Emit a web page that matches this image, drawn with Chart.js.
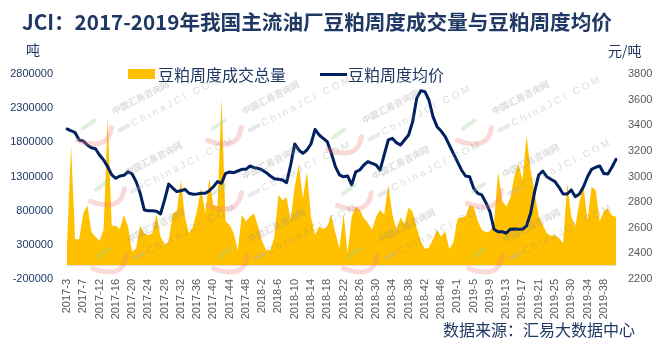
<!DOCTYPE html>
<html>
<head>
<meta charset="utf-8">
<script src="https://cdn.jsdelivr.net/npm/chart.js@4.4.1/dist/chart.umd.min.js"></script>
<style>
    html, body { margin: 0; padding: 0; background: #fff; }
    #wrap { position: relative; width: 670px; height: 346px; overflow: hidden;
            font-family: "Noto Sans CJK SC", "Noto Sans", sans-serif; color: #1f3864; }
    #chart { position: absolute; left: 0; top: 0; }
    .t { position: absolute; white-space: nowrap; line-height: 1; }
    #title { left: 22px; top: 11px; font-size: 20.6px; font-weight: bold; }
    #unitL { left: 26px; top: 42px; font-size: 14px; }
    #unitR { left: 608px; top: 43px; font-size: 14px; }
    #src { left: 443px; top: 321px; font-size: 16px; }
    .swatch { position: absolute; }
</style>
</head>
<body>
<div id="wrap">
    <canvas id="chart" width="670" height="346"></canvas>
    <div class="t" id="title">JCI：2017-2019年我国主流油厂豆粕周度成交量与豆粕周度均价</div>
    <div class="t" id="unitL">吨</div>
    <div class="t" id="unitR">元/吨</div>
    <div class="swatch" style="left:128px;top:69px;width:27px;height:10px;background:#FFC000"></div>
    <div class="t" style="left:158px;top:66px;font-size:16px">豆粕周度成交总量</div>
    <div class="swatch" style="left:320px;top:73px;width:27px;height:3px;background:#002060"></div>
    <div class="t" style="left:348px;top:66px;font-size:16px">豆粕周度均价</div>
    <div class="t" id="src">数据来源：汇易大数据中心</div>
</div>
<script>
// 周次（每年有几周缺数据）
const weeks2017 = [3, 4, 5, 6, 7, 9, 10, 11, 12, 13, 14, 15, 16, 17, 18, 19, 20, 21, 22, 23, 24, 25, 26, 27,
    28, 29, 30, 31, 32, 33, 34, 35, 36, 37, 38, 39, 40, 41, 42, 43, 44, 45, 46, 47, 48, 49, 50, 51];
const weeks2018 = [2, 3, 4, 5, 6, 7, 8, 9, 10, 11, 12, 13, 14, 15, 16, 17, 18, 19, 20, 21, 22, 23, 24, 25,
    26, 27, 28, 29, 30, 31, 32, 33, 34, 35, 36, 37, 38, 39, 40, 41, 42, 43, 44, 45, 46, 47, 48, 49];
const weeks2019 = [1, 2, 3, 4, 5, 6, 7, 8, 9, 10, 11, 12, 13, 14, 15, 16, 17, 18, 19, 20, 21, 22, 23, 24,
    25, 26, 27, 28, 30, 31, 32, 33, 34, 35, 36, 37, 38, 39, 40, 41];

const weekLabels = [].concat(
    weeks2017.map(w => '2017-' + w),
    weeks2018.map(w => '2018-' + w),
    weeks2019.map(w => '2019-' + w)
);

// 豆粕周度成交总量（吨）
const weeklyVolume = [
    300000, 1750000, 380000, 380000, 760000, 880000, 490000, 420000, 360000, 520000,
    2150000, 580000, 580000, 530000, 740000, 570000, 200000, 250000, 580000, 470000,
    440000, 470000, 760000, 420000, 300000, 350000, 760000, 790000, 1250000, 710000,
    470000, 570000, 810000, 1130000, 760000, 1270000, 880000, 860000, 2440000, 640000,
    590000, 470000, 220000, 740000, 640000, 710000, 760000, 570000, 350000, 220000,
    220000, 420000, 1030000, 950000, 1000000, 660000, 1150000, 1470000, 980000, 1370000,
    710000, 440000, 570000, 530000, 570000, 740000, 470000, 250000, 760000, 180000,
    710000, 860000, 810000, 690000, 620000, 520000, 710000, 810000, 740000, 1180000,
    750000, 520000, 700000, 600000, 850000, 780000, 550000, 350000, 240000, 260000,
    380000, 520000, 420000, 500000, 240000, 330000, 680000, 700000, 720000, 880000,
    860000, 650000, 520000, 480000, 500000, 620000, 1370000, 950000, 860000, 980000,
    1300000, 1490000, 1250000, 1900000, 1400000, 1050000, 710000, 590000, 470000, 430000,
    440000, 400000, 320000, 1200000, 710000, 570000, 930000, 1150000, 660000, 1150000,
    1100000, 640000, 790000, 830000, 730000, 710000
];

// 豆粕周度均价（元/吨）
const avgPrice = [
    3371, 3357, 3342, 3285, 3277, 3246, 3225, 3217, 3168, 3129,
    3077, 3012, 2986, 3004, 3009, 3037, 3020, 2960, 2869, 2739,
    2733, 2733, 2728, 2707, 2817, 2941, 2910, 2882, 2889, 2900,
    2869, 2861, 2864, 2869, 2869, 2889, 2920, 2960, 2947, 3024,
    3035, 3030, 3043, 3056, 3056, 3082, 3069, 3064, 3051, 3030,
    3004, 2983, 2978, 2973, 2952, 3090, 3254, 3207, 3181, 3207,
    3254, 3368, 3324, 3298, 3272, 3181, 3077, 3012, 2998, 3004,
    2934, 3037, 3051, 3090, 3116, 3103, 3090, 3051, 3168, 3285,
    3298, 3264, 3246, 3285, 3324, 3428, 3610, 3670, 3662, 3597,
    3467, 3389, 3355, 3311, 3246, 3181, 3116, 3051, 3004, 2998,
    2908, 2869, 2856, 2796, 2726, 2588, 2569, 2569, 2557, 2588,
    2591, 2588, 2588, 2614, 2713, 2882, 3012, 3043, 2998, 2978,
    2960, 2916, 2863, 2863, 2895, 2842, 2863, 2920, 2998, 3056,
    3072, 3082, 3024, 3020, 3072, 3134
];

// 左轴、右轴刻度范围
const volumeAxis = { min: -200000, max: 2800000, step: 500000 };
const priceAxis = { min: 2200, max: 3800, step: 200 };

// 横轴在成交量为 0 处的灰线
const zeroLine = {
    id: 'zeroLine',
    afterDatasetsDraw(chart) {
        const { ctx, chartArea, scales } = chart;
        const y = Math.round(scales.y.getPixelForValue(0)) + 0.5;
        ctx.save();
        ctx.strokeStyle = '#d9d9d9';
        ctx.lineWidth = 1;
        ctx.beginPath();
        ctx.moveTo(chartArea.left, y);
        ctx.lineTo(chartArea.right, y);
        ctx.stroke();
        ctx.restore();
    }
};

// 水印
const markSpots = [
    [114, 115], [244, 115], [364, 124], [494, 115],
    [127, 176], [244, 180], [374, 180], [504, 178],
    [129, 243], [250, 243], [380, 243], [505, 243]
];
const watermark = {
    id: 'watermark',
    afterDatasetsDraw(chart) {
        const ctx = chart.ctx;
        markSpots.forEach(([x, y]) => {
            ctx.save();
            ctx.translate(x, y);
            ctx.rotate(-27 * Math.PI / 180);
            ctx.globalAlpha = 0.3;
            // 标志
            ctx.lineCap = 'round';
            ctx.lineWidth = 5;
            ctx.strokeStyle = '#f08080';
            ctx.beginPath();
            ctx.moveTo(-44, 6);
            ctx.quadraticCurveTo(-22, 30, -8, 10);
            ctx.stroke();
            ctx.lineWidth = 4;
            ctx.strokeStyle = '#8fd18f';
            ctx.beginPath();
            ctx.moveTo(-34, -2);
            ctx.lineTo(-20, -4);
            ctx.stroke();
            ctx.strokeStyle = '#b0b0c0';
            ctx.beginPath();
            ctx.moveTo(-2, 16);
            ctx.lineTo(8, 16);
            ctx.stroke();
            // 文字
            ctx.fillStyle = '#8a8a8a';
            ctx.font = 'bold 9px "Noto Sans CJK SC"';
            ctx.textBaseline = 'alphabetic';
            ctx.fillText('中国汇易咨询网', 0, 0);
            ctx.font = '10px "Liberation Sans"';
            ctx.fillText('C h i n a J C I . C O M', 12, 19);
            ctx.restore();
        });
    }
};

document.addEventListener('DOMContentLoaded', function() {
    Chart.defaults.font.family = '"Liberation Sans", Arial, sans-serif';
    const ctx = document.getElementById('chart').getContext('2d');
    new Chart(ctx, {
        type: 'line',
        data: {
            labels: weekLabels,
            datasets: [
                {
                    label: '豆粕周度均价',
                    data: avgPrice,
                    yAxisID: 'y1',
                    borderColor: '#002060',
                    borderWidth: 3,
                    borderJoinStyle: 'round',
                    borderCapStyle: 'round',
                    pointRadius: 0,
                    fill: false,
                    tension: 0,
                    order: 0
                },
                {
                    label: '豆粕周度成交总量',
                    data: weeklyVolume,
                    yAxisID: 'y',
                    backgroundColor: '#FFC000',
                    borderWidth: 0,
                    pointRadius: 0,
                    fill: 'origin',
                    tension: 0,
                    order: 1
                }
            ]
        },
        options: {
            responsive: false,
            animation: false,
            layout: { padding: { top: 74, left: 0, right: 0, bottom: 0 } },
            plugins: {
                legend: { display: false },
                tooltip: { enabled: false }
            },
            scales: {
                x: {
                    grid: { display: false, drawTicks: false },
                    border: { display: false },
                    ticks: {
                        autoSkip: false,
                        minRotation: 90,
                        maxRotation: 90,
                        padding: 0,
                        color: '#595959',
                        font: { size: 11 },
                        callback: (v, i) => i % 4 === 0 ? weekLabels[i] : ''
                    },
                    afterFit: s => { s.height = 67; }
                },
                y: {
                    position: 'left',
                    min: volumeAxis.min,
                    max: volumeAxis.max,
                    grid: { display: false, drawTicks: false },
                    border: { display: false },
                    ticks: {
                        stepSize: volumeAxis.step,
                        padding: 14,
                        color: '#1f3864',
                        font: { size: 11 },
                        callback: v => String(v)
                    },
                    afterFit: s => { s.width = 67; }
                },
                y1: {
                    position: 'right',
                    min: priceAxis.min,
                    max: priceAxis.max,
                    grid: { display: false, drawTicks: false },
                    border: { display: false },
                    ticks: {
                        stepSize: priceAxis.step,
                        padding: 12,
                        color: '#595959',
                        font: { size: 11 },
                        callback: v => String(v)
                    },
                    afterFit: s => { s.width = 54; }
                }
            }
        },
        plugins: [zeroLine, watermark]
    });
});
</script>
</body>
</html>
